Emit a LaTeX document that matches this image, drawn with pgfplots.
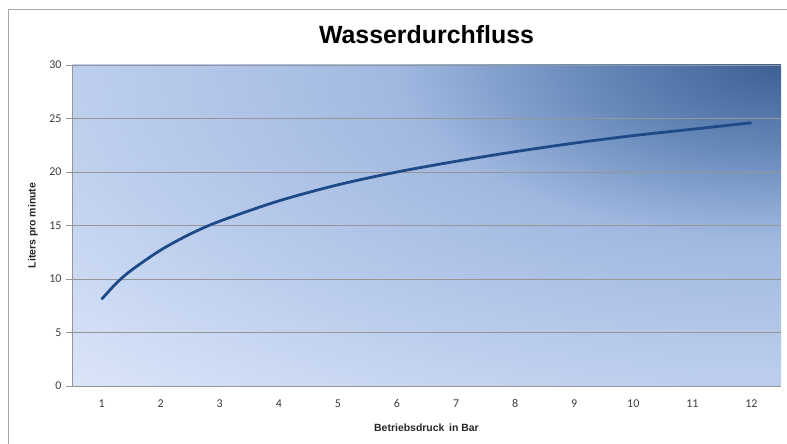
\documentclass[border=0pt]{standalone}
\usepackage{pgfplots}
\pgfplotsset{compat=1.18}
\usepackage{fontspec}
\setmainfont{Liberation Sans}
\newfontfamily\carlito{Carlito}
\definecolor{s0}{RGB}{60,96,148}
\definecolor{s1}{RGB}{100,135,184}
\definecolor{s2}{RGB}{160,184,224}
\definecolor{s3}{RGB}{190,207,238}
\definecolor{s4}{RGB}{219,229,248}
\definecolor{curve}{RGB}{30,74,135}
\definecolor{gridc}{RGB}{150,150,150}
\definecolor{ticklab}{RGB}{60,60,60}
\pgfdeclareradialshading{chartbg}{\pgfpointorigin}{color(0bp)=(s0); color(6.4bp)=(s1); color(13.5bp)=(s2); color(25bp)=(s3); color(35.3bp)=(s4); color(50bp)=(s4)}
\begin{document}
\begin{tikzpicture}
\path[use as bounding box] (-72bp,-58bp) rectangle (715bp,386bp);
\draw[gray!70, line width=1bp] (-63bp,-58bp) -- (-63bp,376bp) -- (715bp,376bp);
\begin{scope}
\clip (0bp,0bp) rectangle (709bp,321bp);
\shade[shading=chartbg] (0bp,0bp) rectangle (1418bp,642bp);
\end{scope}
\begin{axis}[
  at={(0,0)}, anchor=south west,
  scale only axis, width=709bp, height=321bp,
  xmin=0.5, xmax=12.5, ymin=0, ymax=30,
  xtick={1,...,12}, ytick={0,5,...,30},
  axis line style={gridc, line width=0.8bp},
  axis x line*=bottom, axis y line*=left,
  x axis line style={-}, y axis line style={-},
  xtick style={draw=none},
  ytick style={gridc, line width=0.8bp},
  tick align=outside, major tick length=6bp,
  ymajorgrids, grid style={gridc, line width=0.8bp},
  tick label style={font=\carlito\fontsize{12}{14}\selectfont, text=ticklab},
  /pgf/number format/assume math mode=true,
  xticklabel style={yshift=-4bp},
  yticklabel style={xshift=-1bp},
  xlabel={\bfseries Betriebsdruck\, in Bar},
  ylabel={\bfseries Liters pro minute},
  label style={font=\fontsize{10.5}{12}\selectfont, text=black!85},
  xlabel style={at={(axis description cs:0.5,0)}, anchor=center, yshift=-42bp},
  ylabel style={at={(axis description cs:0,0.5)}, anchor=center, yshift=39bp},
  title={\bfseries Wasserdurchfluss},
  title style={font=\fontsize{25}{29}\selectfont, at={(axis description cs:0.5,1)}, anchor=base, yshift=16bp},
  clip=false,
]
\addplot[curve, line width=2.8bp, smooth] coordinates {
(1,8.1) (1.25,9.6) (1.5,10.8) (2,12.7) (2.5,14.2) (3,15.4) (4,17.3) (5,18.8) (6,20.0) (7,21.0) (8,21.9) (9,22.7) (10,23.4) (11,24.0) (12,24.6)
};
\end{axis}
\end{tikzpicture}
\end{document}
